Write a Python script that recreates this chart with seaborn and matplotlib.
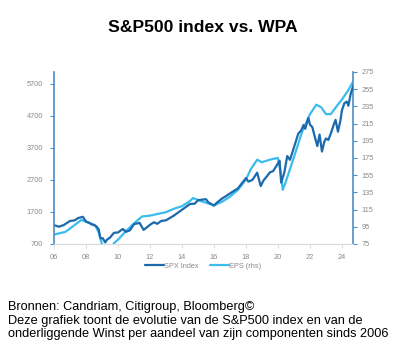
import matplotlib
matplotlib.use('Agg')
import matplotlib.pyplot as plt
import seaborn as sns
import pandas as pd

# S&P500 index (left axis)
spx_years = [2006.0, 2006.3, 2006.6, 2007.0, 2007.3, 2007.5, 2007.8, 2008.0, 2008.2, 2008.35, 2008.5,
             2008.67, 2008.8, 2008.9, 2009.05, 2009.2, 2009.3, 2009.5, 2009.75, 2010.0, 2010.3,
             2010.5, 2010.75, 2011.0, 2011.35, 2011.6, 2011.8, 2012.0, 2012.25, 2012.45, 2012.7,
             2013.0, 2013.5, 2014.0, 2014.5, 2014.8, 2015.0, 2015.5, 2015.65, 2016.0, 2016.15,
             2016.5, 2016.7, 2017.0, 2017.5, 2018.0, 2018.15, 2018.4, 2018.7, 2018.92, 2019.1,
             2019.3, 2019.5, 2019.7, 2020.0, 2020.1, 2020.2, 2020.4, 2020.58, 2020.75, 2021.0,
             2021.27, 2021.45, 2021.6, 2021.7, 2021.9, 2022.0, 2022.15, 2022.3, 2022.46, 2022.6,
             2022.75, 2022.9, 2023.0, 2023.15, 2023.3, 2023.5, 2023.6, 2023.75, 2023.9, 2024.0,
             2024.15, 2024.3, 2024.4, 2024.55, 2024.7]
spx_vals = [1290, 1240, 1290, 1420, 1440, 1510, 1550, 1400, 1360, 1310, 1300,
            1240, 1150, 880, 880, 750, 830, 900, 1050, 1060, 1170,
            1080, 1130, 1320, 1360, 1140, 1220, 1300, 1380, 1330, 1420,
            1440, 1590, 1770, 1950, 1960, 2070, 2100, 2000, 1900, 1980,
            2120, 2180, 2280, 2440, 2760, 2650, 2700, 2930, 2510, 2690,
            2810, 2940, 2980, 3220, 3300, 2620, 2940, 3450, 3330, 3720,
            4150, 4250, 4420, 4300, 4640, 4430, 4350, 4050, 3760, 4120,
            3590, 3900, 4000, 3950, 4150, 4450, 4580, 4210, 4550, 4880,
            5100, 5150, 5020, 5400, 5640]

# EPS (right axis)
eps_years = [2006.0, 2006.7, 2007.0, 2007.5, 2007.7, 2008.0, 2008.3, 2008.6, 2008.8, 2009.0,
             2009.3, 2009.6, 2009.75, 2010.0, 2010.5, 2011.0, 2011.5, 2012.0, 2012.5, 2013.0,
             2013.5, 2014.0, 2014.5, 2014.7, 2015.0, 2015.5, 2016.0, 2016.5, 2017.0, 2017.5,
             2018.0, 2018.3, 2018.7, 2019.0, 2019.3, 2019.7, 2020.0, 2020.15, 2020.3, 2020.5,
             2021.0, 2021.5, 2022.0, 2022.4, 2022.7, 2023.0, 2023.3, 2023.7, 2024.0, 2024.4, 2024.7]
eps_vals = [86, 89, 93, 100, 103, 101, 99, 96, 88, 75,
            62, 70, 76, 80, 90, 99, 107, 108, 110, 112,
            116, 119, 125, 128.5, 126, 123, 120, 124, 130, 138,
            150, 162, 173, 170, 172, 174, 175, 160, 138, 148,
            176, 205, 226, 237, 234, 226, 226, 236, 243, 254, 264]

left_ticks = [700, 1700, 2700, 3700, 4700, 5700]
right_ticks = [75, 95, 115, 135, 155, 175, 195, 215, 235, 255, 275]
x_ticks = [2006, 2008, 2010, 2012, 2014, 2016, 2018, 2020, 2022, 2024]
x_labels = ['06', '08', '10', '12', '14', '16', '18', '20', '22', '24']

dark = '#1b6aad'
light = '#3bbcef'
spine_c = '#4a8fc6'
grey = '#8a8a8a'

sns.set_style('white')
plt.rcParams['font.family'] = ['Liberation Sans', 'DejaVu Sans']

spx = pd.DataFrame({'year': spx_years, 'val': spx_vals})
eps = pd.DataFrame({'year': eps_years, 'val': eps_vals})

fig = plt.figure(figsize=(4.06, 3.6), dpi=100)
ax = fig.add_axes([54/406, 1-244/360, 299/406, 172/360])
ax2 = ax.twinx()

sns.lineplot(data=spx, x='year', y='val', ax=ax, color=dark, lw=1.6, label='SPX Index', legend=False)
sns.lineplot(data=eps, x='year', y='val', ax=ax2, color=light, lw=1.6, label='EPS (rhs)', legend=False)
ax.set_zorder(ax2.get_zorder() + 1)
ax.patch.set_visible(False)

ax.set_xlim(2006, 2024.69)
ax.set_ylim(700, 6075)
ax2.set_ylim(75, 274.6)
ax.set_xticks(x_ticks)
ax.set_xticklabels(x_labels)
ax.set_yticks(left_ticks)
ax2.set_yticks(right_ticks)
ax.set_xlabel('')
ax.set_ylabel('')
ax2.set_ylabel('')

for a in (ax, ax2):
    for s in a.spines.values():
        s.set_visible(False)
ax.spines['left'].set_visible(True)
ax.spines['left'].set_color(spine_c)
ax.spines['left'].set_linewidth(1.2)
ax.spines['bottom'].set_visible(True)
ax.spines['bottom'].set_color('#d9d9d9')
ax.spines['bottom'].set_linewidth(0.8)
ax2.spines['right'].set_visible(True)
ax2.spines['right'].set_color(spine_c)
ax2.spines['right'].set_linewidth(1.2)

ax.tick_params(axis='y', left=True, length=3, width=0.8, color=spine_c, labelsize=5.3, labelcolor=grey, pad=5)
ax.tick_params(axis='x', bottom=True, length=3, width=0.6, color='#d9d9d9', labelsize=5.3, labelcolor=grey, pad=4)
ax2.tick_params(axis='y', right=True, length=3, width=0.8, color=spine_c, labelsize=5.3, labelcolor=grey, pad=3)

h1, l1 = ax.get_legend_handles_labels()
h2, l2 = ax2.get_legend_handles_labels()
fig.legend(h1 + h2, l1 + l2, loc='center', bbox_to_anchor=(203/406, 1-266/360), ncol=2,
           frameon=False, fontsize=5.3, labelcolor=grey, handlelength=2.6, handletextpad=0.0,
           columnspacing=1.5)

fig.text(0.5, 1-28/360, 'S&P500 index vs. WPA', ha='center', va='center', fontsize=12.6,
         fontweight='bold', color='black')
fig.text(8/406, 1-301/360,
         'Bronnen: Candriam, Citigroup, Bloomberg©\n'
         'Deze grafiek toont de evolutie van de S&P500 index en van de\n'
         'onderliggende Winst per aandeel van zijn componenten sinds 2006',
         ha='left', va='top', fontsize=9.15, color='black', linespacing=1.17)

fig.savefig('out.png', dpi=100)
